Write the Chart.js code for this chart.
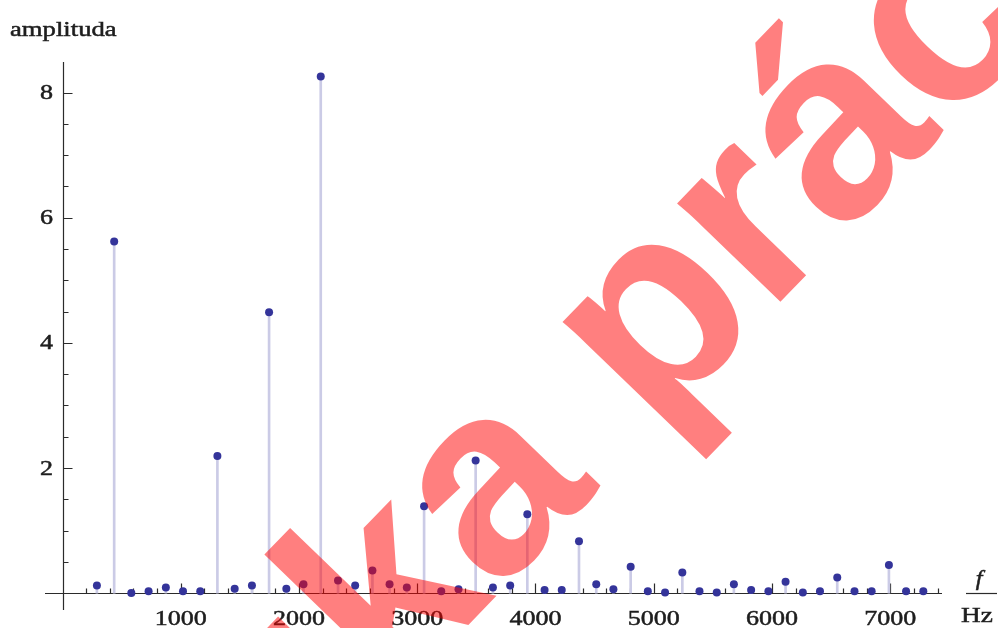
<!DOCTYPE html>
<html>
<head>
<meta charset="utf-8">
<script src="https://cdn.jsdelivr.net/npm/chart.js@4.4.0/dist/chart.umd.min.js"></script>
<style>
  body { margin: 0; background: #fff; }
  #wrap { width: 998px; height: 628px; position: relative; }
</style>
</head>
<body>
<div id="wrap"><canvas id="myChart"></canvas></div>
<script>
// frekvence (Hz) a amplitudy
const freqs = [291, 437, 582, 728, 874, 1019, 1165, 1310, 1456, 1602,
  1747, 1893, 2038, 2184, 2330, 2475, 2621, 2766, 2912, 3058,
  3203, 3349, 3494, 3640, 3786, 3931, 4077, 4222, 4368, 4514,
  4659, 4805, 4950, 5096, 5242, 5387, 5533, 5678, 5824, 5970,
  6115, 6261, 6406, 6552, 6698, 6843, 6989, 7134, 7280];
const amps = [0.12, 5.62, 0.00, 0.03, 0.09, 0.03, 0.03, 2.19, 0.07, 0.12,
  4.49, 0.07, 0.14, 8.26, 0.20, 0.12, 0.36, 0.14, 0.09, 1.39,
  0.03, 0.06, 2.12, 0.09, 0.12, 1.26, 0.05, 0.05, 0.83, 0.14,
  0.06, 0.42, 0.03, 0.01, 0.33, 0.03, 0.01, 0.14, 0.05, 0.03,
  0.18, 0.01, 0.03, 0.25, 0.03, 0.03, 0.45, 0.03, 0.03];
const xTickLabels = ['1000', '2000', '3000', '4000', '5000', '6000', '7000'];
const yTickLabels = ['2', '4', '6', '8'];

const points = freqs.map((f, i) => ({ x: f, y: amps[i] }));

const serif = '"Liberation Serif", "DejaVu Serif", serif';

// roztažený text (originál je vodorovně natažený)
function wideText(ctx, txt, x, y, align, sx) {
  ctx.save();
  ctx.translate(x, y);
  ctx.scale(sx, 1);
  const w = ctx.measureText(txt).width;
  let dx = 0;
  if (align === 'center') dx = -w / 2;
  if (align === 'right') dx = -w;
  ctx.textAlign = 'left';
  ctx.lineWidth = 0.5;
  ctx.strokeStyle = ctx.fillStyle;
  ctx.fillText(txt, dx, 0);
  ctx.strokeText(txt, dx, 0);
  ctx.restore();
}

const axesPlugin = {
  id: 'axes',
  beforeDatasetsDraw(chart) {
    const ctx = chart.ctx;
    const xs = chart.scales.x, ys = chart.scales.y;
    const area = chart.chartArea;
    const x0 = Math.round(xs.getPixelForValue(0)) + 0.5;
    const y0 = Math.round(ys.getPixelForValue(0)) + 0.5;
    ctx.save();
    ctx.strokeStyle = '#2b2b2b';
    ctx.lineWidth = 1.2;
    ctx.beginPath();
    ctx.moveTo(area.left, y0); ctx.lineTo(area.right, y0);
    ctx.moveTo(x0, area.top); ctx.lineTo(x0, area.bottom);
    // x ticks
    for (let v = 200; v <= xs.max; v += 200) {
      const px = Math.round(xs.getPixelForValue(v)) + 0.5;
      const len = v % 1000 === 0 ? 10 : 5;
      ctx.moveTo(px, y0); ctx.lineTo(px, y0 - len);
    }
    // y ticks
    for (let v = 0.5; v <= ys.max; v += 0.5) {
      const py = Math.round(ys.getPixelForValue(v)) + 0.5;
      const len = v % 2 === 0 ? 9 : 5;
      ctx.moveTo(x0, py); ctx.lineTo(x0 + len, py);
    }
    ctx.stroke();

    ctx.fillStyle = '#1e1e1e';
    ctx.font = '21px ' + serif;
    ctx.textBaseline = 'alphabetic';
    xTickLabels.forEach(t => {
      wideText(ctx, t, xs.getPixelForValue(Number(t)), 625, 'center', 1.24);
    });
    ctx.textBaseline = 'middle';
    yTickLabels.forEach(t => {
      wideText(ctx, t, 53, ys.getPixelForValue(Number(t)) + 1, 'right', 1.24);
    });
    ctx.textBaseline = 'alphabetic';
    wideText(ctx, 'amplituda', 10, 36, 'left', 1.27);
    ctx.font = 'italic 22px ' + serif;
    wideText(ctx, 'f', 979, 585, 'center', 1.1);
    ctx.font = '21px ' + serif;
    wideText(ctx, 'Hz', 977, 622, 'center', 1.3);
    ctx.beginPath();
    ctx.lineWidth = 1.2;
    ctx.moveTo(966, 593.5); ctx.lineTo(997, 593.5);
    ctx.stroke();
    ctx.restore();
  }
};

const watermark = {
  id: 'watermark',
  afterDraw(chart) {
    const ctx = chart.ctx;
    ctx.save();
    ctx.fillStyle = 'rgba(255, 0, 0, 0.5)';
    ctx.font = 'bold 270px "Liberation Sans", Arial, sans-serif';
    ctx.textBaseline = 'alphabetic';
    const off = ctx.measureText('ukáz').width;
    ctx.translate(392, 704);
    ctx.rotate(-46 * Math.PI / 180);
    ctx.fillText('ukázka práce', -off, 0);
    ctx.restore();
  }
};

new Chart(document.getElementById('myChart'), {
  type: 'scatter',
  data: {
    datasets: [{
      type: 'scatter',
      data: points,
      pointRadius: 4,
      pointHoverRadius: 4,
      pointBackgroundColor: '#34349a',
      pointBorderWidth: 0,
      order: 0,
      clip: false
    }, {
      type: 'bar',
      data: points,
      backgroundColor: '#cbcbe6',
      barThickness: 2,
      order: 1
    }]
  },
  options: {
    responsive: true,
    maintainAspectRatio: false,
    animation: false,
    events: [],
    layout: { padding: { left: 45, right: 56, top: 62, bottom: 18 } },
    plugins: { legend: { display: false }, tooltip: { enabled: false } },
    scales: {
      x: { type: 'linear', min: -148, max: 7438, offset: false, display: false },
      y: { type: 'linear', min: -0.27, max: 8.49, display: false }
    }
  },
  plugins: [axesPlugin, watermark]
});
</script>
</body>
</html>
